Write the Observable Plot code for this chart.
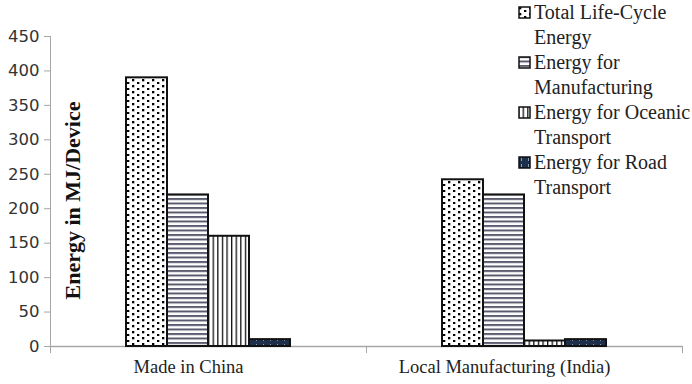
<!DOCTYPE html>
<html><head><meta charset="utf-8">
<script src="https://cdn.jsdelivr.net/npm/d3@7"></script>
<script src="https://cdn.jsdelivr.net/npm/@observablehq/plot@0.6"></script>
<style>
body{margin:0;background:#fff;}
#wrap{position:relative;width:692px;height:384px;}
#legend{position:absolute;left:518px;top:0;font-family:"Times New Roman","Liberation Serif",serif;font-size:20px;line-height:25px;color:#222;}
.item{display:flex;align-items:flex-start;}
.sw{width:13px;height:13px;margin-top:6px;margin-right:3px;flex:none;}
.lbl{width:158px;}
#defs{position:absolute;width:0;height:0;}
</style></head><body>
<svg id="defs" width="0" height="0">
<defs>
<pattern id="pDots" width="10" height="6" patternUnits="userSpaceOnUse">
<rect width="10" height="6" fill="#fff"/>
<rect x="1" y="1" width="2.3" height="2.3" fill="#000"/>
<rect x="6" y="4" width="2.3" height="2.3" fill="#000"/>
</pattern>
<pattern id="pHoriz" width="8" height="4.5" patternUnits="userSpaceOnUse">
<rect width="8" height="4.5" fill="#fff"/>
<rect y="0" width="8" height="2" fill="#5b5b70"/>
</pattern>
<pattern id="pVert" width="4.6" height="8" patternUnits="userSpaceOnUse">
<rect width="4.6" height="8" fill="#fff"/>
<rect x="0" width="1.3" height="8" fill="#111"/>
</pattern>
<pattern id="pRoad" width="7" height="6" patternUnits="userSpaceOnUse">
<rect width="7" height="6" fill="#1d2f4b"/>
<rect x="3" y="2" width="1" height="3" fill="#8da0bb"/>
</pattern>
</defs>
</svg>
<div id="wrap"><div id="legend"></div></div>
<script>
const categories = ["Made in China", "Local Manufacturing (India)"];
const series = ["Total Life-Cycle Energy", "Energy for Manufacturing", "Energy for Oceanic Transport", "Energy for Road Transport"];
const madeInChina = [390, 220, 160, 10];
const localIndia = [242, 220, 8, 10];
const yTicks = [0, 50, 100, 150, 200, 250, 300, 350, 400, 450];
const yTitle = "Energy in MJ/Device";
const patternIds = ["pDots", "pHoriz", "pVert", "pRoad"];

const valuesByCategory = [madeInChina, localIndia];
const data = [];
categories.forEach((c, ci) => series.forEach((s, si) => data.push({category: c, series: s, value: valuesByCategory[ci][si]})));

const W = 692, H = 384, mT = 36, mB = 38, mL = 49, mR = 10;
const plotH = H - mT - mB;
const axisGray = "#a6a6a6";
const serifFont = "Times New Roman, Liberation Serif, serif";

const chart = Plot.plot({
  width: W, height: H,
  marginLeft: mL, marginRight: mR, marginTop: mT, marginBottom: mB,
  style: {background: "transparent", overflow: "visible"},
  fx: {domain: categories, padding: 0},
  x: {domain: series, paddingInner: 0, paddingOuter: 1.77, axis: null},
  y: {domain: [0, 450]},
  color: {type: "ordinal", domain: series, range: patternIds.map(id => `url(#${id})`)},
  marks: [
    Plot.frame({anchor: "left", fx: () => categories[0], stroke: axisGray}),
    Plot.ruleY([0], {stroke: axisGray, strokeWidth: 1.5}),
    Plot.frame({anchor: "left", insetTop: plotH, insetBottom: -6, stroke: axisGray}),
    Plot.frame({anchor: "right", insetTop: plotH, insetBottom: -6, stroke: axisGray}),
    Plot.barY(data, {fx: "category", x: "series", y: "value", fill: "series", stroke: "#111", strokeWidth: 2}),
    Plot.axisY({ticks: yTicks, tickSize: 6, tickPadding: 5, stroke: axisGray, fill: "#333", fontSize: 16.5, fontFamily: "DejaVu Sans", label: null}),
    Plot.axisFx({anchor: "bottom", tickSize: 0, tickPadding: 13, fontSize: 18.5, fontFamily: serifFont, fill: "#222", label: null, dx: -20}),
    Plot.text([categories[0]], {fx: d => d, text: () => yTitle, frameAnchor: "left", textAnchor: "middle", rotate: -90, dx: 22, dy: 9, fontSize: 22, fontWeight: "bold", fontFamily: serifFont, fill: "#111"})
  ]
});
document.getElementById("wrap").prepend(chart);

const legend = document.getElementById("legend");
series.forEach((s, i) => {
  const item = document.createElement("div");
  item.className = "item";
  item.innerHTML = `<svg class="sw" width="13" height="13"><rect x="1" y="1" width="11" height="11" fill="url(#${patternIds[i]})" stroke="#111" stroke-width="1.5"/></svg><div class="lbl"></div>`;
  item.querySelector(".lbl").textContent = s;
  legend.appendChild(item);
});
</script>
</body></html>
